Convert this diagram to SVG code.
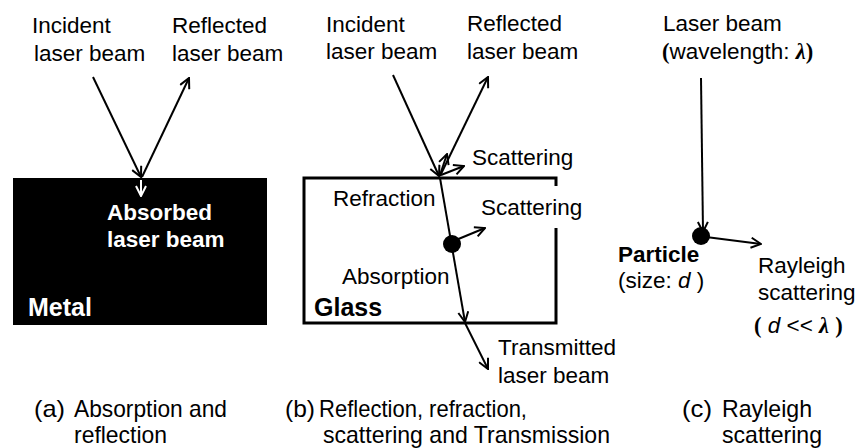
<svg xmlns="http://www.w3.org/2000/svg" width="857" height="448" viewBox="0 0 857 448">
<style>
.t{font-family:"Liberation Sans",Arial,sans-serif;font-size:22.5px;fill:#000}
.b{font-weight:bold}
.big{font-size:25px}
.w{fill:#fff}
.cap{font-family:"Liberation Sans",Arial,sans-serif;font-size:24px;fill:#000}
.ln{stroke:#000;stroke-width:2;fill:none}
.ser{font-family:"Liberation Serif","Times New Roman",serif;font-weight:bold}
.it{font-style:italic}
</style>
<defs>
<marker id="ah" viewBox="0 0 12 12" refX="11" refY="6" markerWidth="12" markerHeight="12" markerUnits="userSpaceOnUse" orient="auto">
<path d="M1,1 L11,6 L1,11" fill="none" stroke="#000" stroke-width="2"/>
</marker>
<marker id="ahw" viewBox="0 0 12 12" refX="11" refY="6" markerWidth="12" markerHeight="12" markerUnits="userSpaceOnUse" orient="auto">
<path d="M1,1 L11,6 L1,11" fill="none" stroke="#fff" stroke-width="2"/>
</marker>
</defs>

<g id="metal">
<rect x="13" y="178" width="254" height="147" fill="#000"/>
<text class="t b w" x="107" y="220">Absorbed</text>
<text class="t b w" x="107" y="247">laser beam</text>
<text class="t b w big" x="28" y="316">Metal</text>
</g>
<g id="labels-a">
<text class="t" x="32" y="33">Incident</text>
<text class="t" x="34" y="61">laser beam</text>
<text class="t" x="172" y="33">Reflected</text>
<text class="t" x="172" y="61">laser beam</text>
</g>

<g id="glass">
<path d="M556,186 L556,178 L304,178 L304,323 L556,323 L556,228" fill="none" stroke="#000" stroke-width="3"/>
<text class="t" x="333" y="206">Refraction</text>
<text class="t" x="481" y="215">Scattering</text>
<text class="t" x="342" y="284">Absorption</text>
<text class="t b big" x="314" y="316">Glass</text>
<circle cx="452" cy="244" r="9" fill="#000"/>
</g>
<g id="labels-b">
<text class="t" x="326" y="32">Incident</text>
<text class="t" x="326" y="59">laser beam</text>
<text class="t" x="467" y="31">Reflected</text>
<text class="t" x="467" y="59">laser beam</text>
<text class="t" x="472" y="165">Scattering</text>
<text class="t" x="498" y="355">Transmitted</text>
<text class="t" x="498" y="383">laser beam</text>
</g>

<g id="particle">
<circle cx="701" cy="236" r="9" fill="#000"/>
<text class="t b" x="618" y="262">Particle</text>
<text class="t" x="618" y="288">(size: <tspan class="it">d</tspan> )</text>
</g>
<g id="labels-c">
<text class="t" x="663" y="31">Laser beam</text>
<text class="t" x="662" y="59"><tspan class="ser">(</tspan>wavelength: <tspan class="ser it">λ</tspan><tspan class="ser">)</tspan></text>
<text class="t" x="758" y="273">Rayleigh</text>
<text class="t" x="758" y="300">scattering</text>
<text class="t" x="754" y="333"><tspan class="ser">(</tspan> <tspan class="it">d</tspan> &lt;&lt; <tspan class="ser it">λ</tspan> <tspan class="ser">)</tspan></text>
</g>

<g id="connectors">
<line class="ln" x1="93" y1="77" x2="141" y2="177" marker-end="url(#ah)"/>
<line class="ln" x1="142" y1="177" x2="189" y2="78" marker-end="url(#ah)"/>
<line x1="141" y1="180" x2="141" y2="196" stroke="#fff" stroke-width="2" marker-end="url(#ahw)"/>
<line class="ln" x1="393" y1="75" x2="439" y2="176" marker-end="url(#ah)"/>
<line class="ln" x1="440" y1="176" x2="488" y2="77" marker-end="url(#ah)"/>
<line class="ln" x1="440" y1="175" x2="447" y2="154" marker-end="url(#ah)" stroke-width="1.8"/>
<line class="ln" x1="441" y1="175" x2="464" y2="166" marker-end="url(#ah)" stroke-width="1.8"/>
<line class="ln" x1="440" y1="178" x2="465" y2="322" marker-end="url(#ah)"/>
<line class="ln" x1="465" y1="323" x2="488" y2="369" marker-end="url(#ah)"/>
<line class="ln" x1="456" y1="240" x2="485" y2="228" marker-end="url(#ah)"/>
<line class="ln" x1="701" y1="78" x2="703" y2="232" marker-end="url(#ah)"/>
<line class="ln" x1="706" y1="237" x2="761" y2="244" marker-end="url(#ah)"/>
</g>

<g id="captions">
<text class="cap" x="34" y="417" textLength="31" lengthAdjust="spacingAndGlyphs">(a)</text>
<text class="cap" x="74" y="417" textLength="153" lengthAdjust="spacingAndGlyphs">Absorption and</text>
<text class="cap" x="74" y="443" textLength="93" lengthAdjust="spacingAndGlyphs">reflection</text>
<text class="cap" x="285" y="417" textLength="30" lengthAdjust="spacingAndGlyphs">(b)</text>
<text class="cap" x="319" y="417" textLength="208" lengthAdjust="spacingAndGlyphs">Reflection, refraction,</text>
<text class="cap" x="323" y="443" textLength="287" lengthAdjust="spacingAndGlyphs">scattering and Transmission</text>
<text class="cap" x="682" y="417" textLength="30" lengthAdjust="spacingAndGlyphs">(c)</text>
<text class="cap" x="722" y="417" textLength="90" lengthAdjust="spacingAndGlyphs">Rayleigh</text>
<text class="cap" x="722" y="443" textLength="100" lengthAdjust="spacingAndGlyphs">scattering</text>
</g>
</svg>
